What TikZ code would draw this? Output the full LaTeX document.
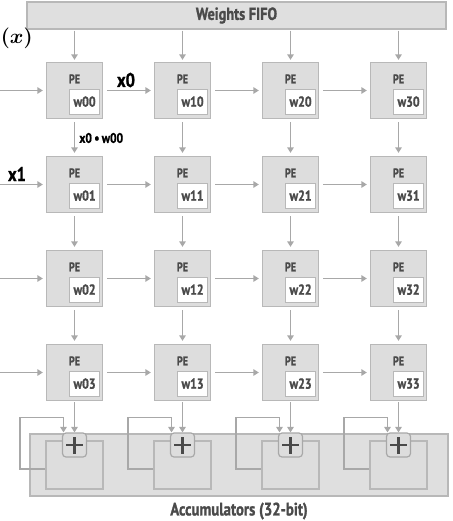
\documentclass[tikz,border=0pt]{standalone}
\usepackage{fontspec}
\newfontfamily\diagfont[FakeStretch=0.82, BoldFeatures={FakeBold=1.2}]{PT Sans}
\usepackage{tikz}
\usetikzlibrary{arrows.meta,positioning}

\definecolor{boxfill}{HTML}{DDDDDD}
\definecolor{boxline}{HTML}{B8B8B8}
\definecolor{arrowgray}{HTML}{A8A8A8}
\definecolor{textgray}{HTML}{4A4A4A}

\begin{document}
\begin{tikzpicture}[x=1pt, y=-1pt, thick,
    font=\diagfont\bfseries]
    \tikzstyle{pe}=[rectangle, draw=boxline, fill=boxfill, line width=1.3pt, minimum width=56pt, minimum height=56pt, inner sep=0pt]
    \tikzstyle{wbox}=[rectangle, draw=boxline, fill=white, line width=1.1pt, minimum width=30pt, minimum height=25pt, inner sep=0pt, text=textgray, font=\diagfont\bfseries\fontsize{14.5}{14.5}\selectfont]
    \tikzstyle{petext}=[text=textgray, font=\diagfont\bfseries\fontsize{12.5}{12.5}\selectfont]
    \tikzstyle{arr}=[draw=arrowgray, line width=1.8pt, -{Triangle[width=6.5pt,length=5.5pt]}]
    \tikzstyle{acc}=[rectangle, draw=boxline, fill=boxfill, line width=1.3pt, minimum width=57pt, minimum height=48pt, inner sep=0pt]
    \tikzstyle{adder}=[rectangle, rounded corners=3.5pt, draw=arrowgray, fill=boxfill, line width=1.2pt, minimum size=24pt, inner sep=0pt]
    \tikzstyle{biglabel}=[text=textgray, font=\diagfont\bfseries\fontsize{17.5}{17.5}\selectfont]
    \tikzstyle{inlabel}=[text=black, font=\diagfont\bfseries\fontsize{20}{20}\selectfont]

    \useasboundingbox (0,0) rectangle (452,521);

    % weights fifo and accumulators
    \node[rectangle, draw=boxline, fill=boxfill!95!white, line width=1.3pt, minimum width=419pt, minimum height=27pt] (fifo) at (236.5,15.5) {};
    \node[biglabel] at (fifo) {Weights FIFO};
    \node[rectangle, draw=boxline, fill=boxfill!95!white, line width=1.3pt, minimum width=418pt, minimum height=62pt] (accums) at (239,465) {};
    \node[biglabel, font=\diagfont\bfseries\fontsize{18}{18}\selectfont] at (239,511) {Accumulators (32-bit)};

    \node[font=\boldmath\fontsize{20}{20}\selectfont, anchor=west, inner sep=0pt] (fx) at (0.5,38) {$(x)$};

    % PE array
    \foreach \i in {0,...,3} {
      \foreach \j in {0,...,3} {
        \node[pe] (pe\i\j) at (74.5+108*\i, 90.5+94*\j) {};
        \node[petext] at ([yshift=-17pt]pe\i\j.north) {PE};
        \node[wbox, anchor=south east] (w\i\j) at ([xshift=-3pt, yshift=4.5pt]pe\i\j.south east) {w\i\j};
      }
      \draw[arr, shorten <=1pt, shorten >=2pt] (pe\i0.north |- fifo.south) -- (pe\i0.north);
      \node[acc] (acc\i) at (74.5+108*\i, 465) {};
      \node[adder] (plus\i) at (74.5+108*\i, 445) {};
      \draw[textgray, line width=2.6pt] ([xshift=-8.5pt]plus\i.center) -- ([xshift=8.5pt]plus\i.center)
        ([yshift=-8.5pt]plus\i.center) -- ([yshift=8.5pt]plus\i.center);
      \draw[arr, shorten <=1pt] (pe\i3.south) -- (plus\i.north);
      \draw[arr] ([yshift=-4pt]acc\i.west) -- ++(-25pt,0) |- ([xshift=-11pt, yshift=15pt]plus\i.north) -- ([xshift=-11pt]plus\i.north);
    }

    \foreach \j in {0,...,3} {
      \coordinate (in\j) at (0, 90.5+94*\j);
      \draw[arr, shorten >=3pt] (in\j) -- (pe0\j.west);
      \foreach \i/\k in {0/1,1/2,2/3} {
        \draw[arr, shorten <=4pt, shorten >=3pt] (pe\i\j.east) -- (pe\k\j.west);
      }
    }
    \foreach \i in {0,...,3} {
      \foreach \j/\k in {0/1,1/2,2/3} {
        \draw[arr, shorten <=3pt, shorten >=3pt] (pe\i\j.south) -- (pe\i\k.north);
      }
    }

    % data labels
    \node[inlabel] at (126,80) {x0};
    \node[inlabel] at (17,174) {x1};
    \node[text=black, font=\diagfont\bfseries\fontsize{14}{14}\selectfont, anchor=west, inner sep=0pt] at (79,138) {x0\,•\,w00};

  \end{tikzpicture}
\end{document}
